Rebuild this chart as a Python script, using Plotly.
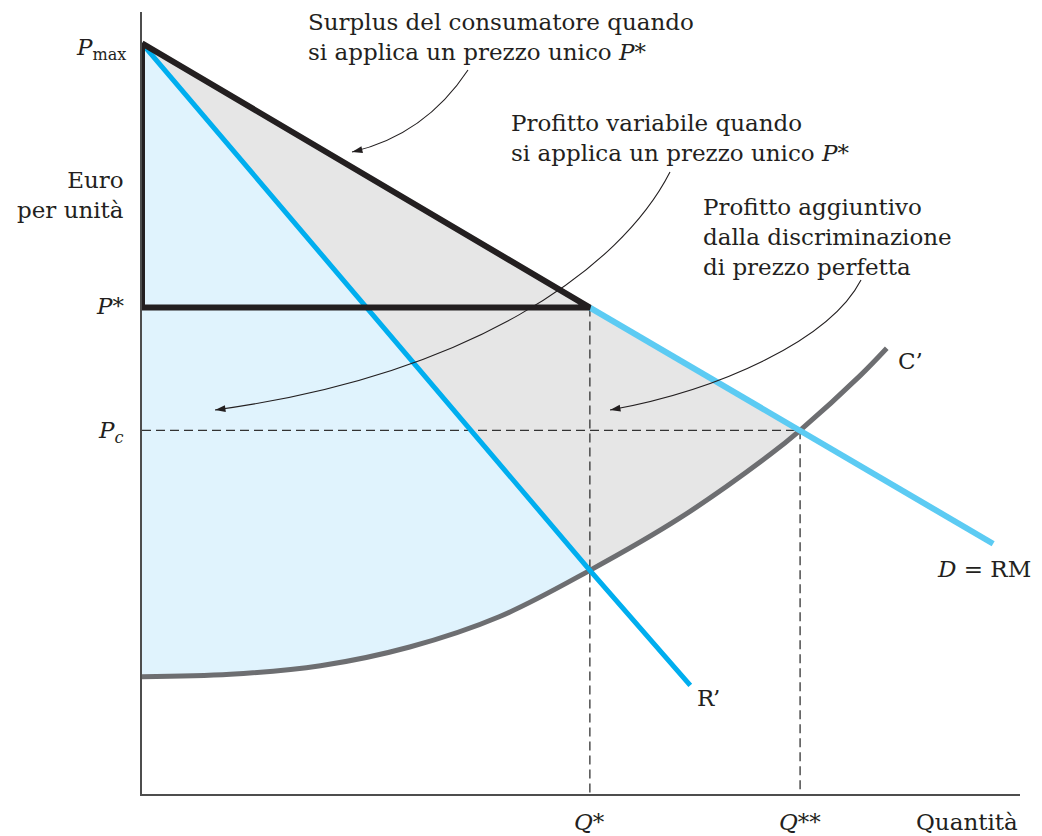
import math
import plotly.graph_objects as go

# ---------------- data ----------------
p_max = 96.0
p_star = 62.2
p_c = 46.5
q_star = 52.2
q_2star = 76.7

demand_q = [0.0, 52.2, 76.7, 99.2]
demand_p = [96.0, 62.2, 46.5, 32.0]

mr_q = [0.0, 52.2, 63.9]
mr_p = [96.0, 28.6, 13.9]

mc_q = [0.0, 10.3, 20.8, 31.2, 41.7, 52.2, 62.7, 73.2, 76.7, 83.7, 86.8]
mc_p = [15.0, 15.3, 16.4, 18.8, 22.7, 28.6, 35.3, 43.4, 46.5, 53.5, 57.0]

# ---------------- styling ----------------
FONT = "DejaVu Serif"
TXT = "#231f20"
BLACK = "#231f20"
BLUE = "#00aeef"
LIGHTBLUE = "#5ccbf3"
MCGREY = "#6d6e71"
FILL_GREY = "#e6e6e6"
FILL_BLUE = "#e0f3fd"

# pixel -> data helpers (for annotation placement only)
X0, XS, Y0, YS = 142, 8.58, 794, 7.82
def dx(px):
    return (px - X0) / XS
def dy(py):
    return (Y0 - py) / YS

fig = go.Figure()

# grey region: between demand and MC from 0 to Q**
iq2 = mc_q.index(q_2star)
grey_x = [demand_q[0], demand_q[2]] + mc_q[:iq2 + 1][::-1]
grey_y = [demand_p[0], demand_p[2]] + mc_p[:iq2 + 1][::-1]
fig.add_trace(go.Scatter(x=grey_x, y=grey_y, fill="toself", fillcolor=FILL_GREY,
                         line=dict(width=0), mode="lines", hoverinfo="skip"))

# light blue region: between MR and MC from 0 to Q*
iq1 = mc_q.index(q_star)
blue_x = [mr_q[0], mr_q[1]] + mc_q[:iq1 + 1][::-1]
blue_y = [mr_p[0], mr_p[1]] + mc_p[:iq1 + 1][::-1]
fig.add_trace(go.Scatter(x=blue_x, y=blue_y, fill="toself", fillcolor=FILL_BLUE,
                         line=dict(width=0), mode="lines", hoverinfo="skip"))

# dashed guides
dash_style = dict(color="#333333", width=1.3, dash="9px,5px")
fig.add_trace(go.Scatter(x=[0, q_2star], y=[p_c, p_c], mode="lines", line=dash_style))
fig.add_trace(go.Scatter(x=[q_star, q_star], y=[p_star, 0], mode="lines", line=dash_style))
fig.add_trace(go.Scatter(x=[q_2star, q_2star], y=[p_c, 0], mode="lines", line=dash_style))

# MC curve
fig.add_trace(go.Scatter(x=mc_q, y=mc_p, mode="lines",
                         line=dict(color=MCGREY, width=5, shape="spline", smoothing=1.0)))

# MR line
fig.add_trace(go.Scatter(x=mr_q, y=mr_p, mode="lines", line=dict(color=BLUE, width=5)))

# demand beyond P*
fig.add_trace(go.Scatter(x=demand_q[1:], y=demand_p[1:], mode="lines",
                         line=dict(color=LIGHTBLUE, width=6)))

# consumer surplus triangle outline
fig.add_trace(go.Scatter(x=[0, q_star, 0, 0], y=[p_max, p_star, p_star, p_max], mode="lines",
                         line=dict(color=BLACK, width=6)))

# ---------------- curved arrows ----------------
paths = [
    ((468, 70), (425, 135), None, (352, 152)),
    ((670, 172), (620, 270), (470, 375), (215, 410)),
    ((861, 280), (830, 340), (720, 390), (610, 410)),
]
shapes = []
head_x, head_y, head_ang = [], [], []
for start, c1, c2, tip in paths:
    if c2 is None:
        path = (f"M {dx(start[0])},{dy(start[1])} Q {dx(c1[0])},{dy(c1[1])} "
                f"{dx(tip[0])},{dy(tip[1])}")
        prev = c1
    else:
        path = (f"M {dx(start[0])},{dy(start[1])} C {dx(c1[0])},{dy(c1[1])} "
                f"{dx(c2[0])},{dy(c2[1])} {dx(tip[0])},{dy(tip[1])}")
        prev = c2
    shapes.append(dict(type="path", path=path, xref="x", yref="y", layer="above",
                       line=dict(color=TXT, width=1.1)))
    vx, vy = tip[0] - prev[0], tip[1] - prev[1]
    head_x.append(dx(tip[0]))
    head_y.append(dy(tip[1]))
    head_ang.append(math.degrees(math.atan2(vx, -vy)))

fig.add_trace(go.Scatter(x=head_x, y=head_y, mode="markers", hoverinfo="skip",
                         marker=dict(symbol="arrow", size=11, angle=head_ang, color=TXT,
                                     line=dict(width=0))))

# ---------------- text ----------------
annotations = []
big = dict(family=FONT, size=23, color=TXT)
blocks = [
    ("Surplus del consumatore quando<br>si applica un prezzo unico <i>P*</i>", 306, 37, "left"),
    ("Profitto variabile quando<br>si applica un prezzo unico <i>P*</i>", 509, 138, "left"),
    ("Profitto aggiuntivo<br>dalla discriminazione<br>di prezzo perfetta", 701, 237, "left"),
]
for txt, px, py, al in blocks:
    annotations.append(dict(x=dx(px), y=dy(py), xref="x", yref="y", text=txt, showarrow=False,
                            xanchor="left", yanchor="middle", align=al, font=big))
annotations.append(dict(x=0, y=dy(195), xref="x", yref="y", text="Euro<br>per unità",
                        showarrow=False, xanchor="right", yanchor="middle", align="right",
                        xshift=-16, font=big))

lab = dict(family=FONT, size=23, color=TXT)
# price labels on the y axis
annotations.append(dict(x=0, y=p_max, xref="x", yref="y", text="<i>P</i><sub>max</sub>",
                        showarrow=False, xanchor="right", yanchor="middle", xshift=-14,
                        yshift=-6, font=lab))
annotations.append(dict(x=0, y=p_star, xref="x", yref="y", text="<i>P*</i>",
                        showarrow=False, xanchor="right", yanchor="middle", xshift=-16,
                        yshift=2, font=lab))
annotations.append(dict(x=0, y=p_c, xref="x", yref="y", text="<i>P<sub>c</sub></i>",
                        showarrow=False, xanchor="right", yanchor="middle", xshift=-16,
                        yshift=-2, font=lab))
# quantity labels on the x axis
annotations.append(dict(x=q_star, y=0, xref="x", yref="y", text="<i>Q*</i>",
                        showarrow=False, xanchor="center", yanchor="middle", yshift=-28, font=lab))
annotations.append(dict(x=q_2star, y=0, xref="x", yref="y", text="<i>Q**</i>",
                        showarrow=False, xanchor="center", yanchor="middle", yshift=-28, font=lab))
annotations.append(dict(x=1.0, y=0, xref="paper", yref="y", text="Quantità",
                        showarrow=False, xanchor="right", yanchor="middle", yshift=-28, font=lab))
# curve labels
annotations.append(dict(x=mc_q[-1], y=mc_p[-1], xref="x", yref="y", text="C’",
                        showarrow=False, xanchor="left", yanchor="middle", xshift=9,
                        yshift=-13, font=lab))
annotations.append(dict(x=demand_q[-1], y=demand_p[-1], xref="x", yref="y",
                        text="<i>D</i> = RM", showarrow=False, xanchor="right",
                        yanchor="middle", xshift=40, yshift=-25, font=lab))
annotations.append(dict(x=mr_q[-1], y=mr_p[-1], xref="x", yref="y", text="R’",
                        showarrow=False, xanchor="left", yanchor="middle", xshift=5,
                        yshift=-13, font=lab))

fig.update_layout(
    width=1042, height=836,
    margin=dict(l=142, r=22, t=12, b=42),
    paper_bgcolor="white", plot_bgcolor="white",
    showlegend=False,
    shapes=shapes,
    annotations=annotations,
    xaxis=dict(range=[0, (1020 - X0) / XS], showgrid=False, zeroline=False, showticklabels=False,
               ticks="", showline=True, linecolor="#4d4d4d", linewidth=1.5, fixedrange=True),
    yaxis=dict(range=[0, (Y0 - 12) / YS], showgrid=False, zeroline=False, showticklabels=False,
               ticks="", showline=True, linecolor="#4d4d4d", linewidth=1.5, fixedrange=True),
)

fig.write_html("out.html", config={"displayModeBar": False},
               post_script="document.body.style.margin='0px';")
